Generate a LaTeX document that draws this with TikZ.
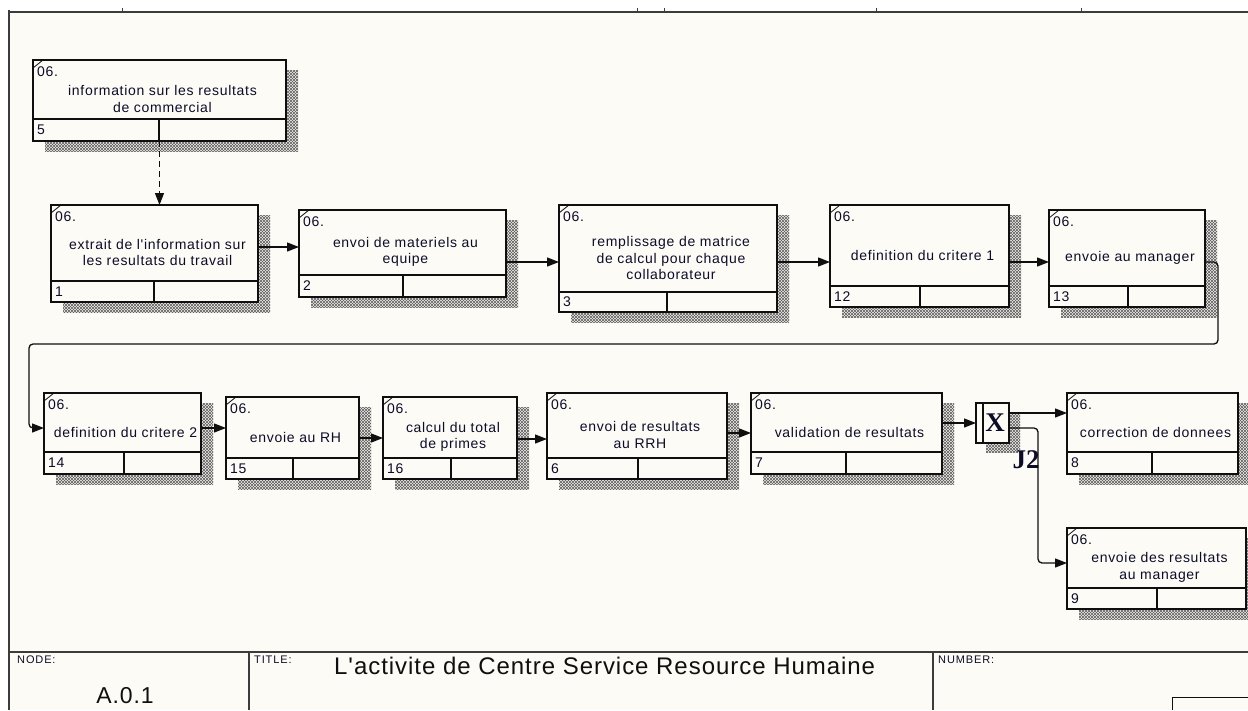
\documentclass[tikz,border=0pt]{standalone}
\usepackage{fontspec}
\setmainfont{Liberation Sans}
\newfontfamily\boxfont[LetterSpace=5,Ligatures=TeXOff]{Liberation Sans}
\newfontfamily\lblfont[LetterSpace=8,Ligatures=TeXOff]{Liberation Sans}
\newfontfamily\ttlfont[LetterSpace=4,Ligatures=TeXOff]{Liberation Sans}
\newfontfamily\jfont{Liberation Serif}
\usetikzlibrary{arrows.meta,patterns,calc}

\definecolor{paper}{RGB}{253,251,246}
\definecolor{ink}{RGB}{15,15,15}
\definecolor{txt}{RGB}{12,12,40}
\definecolor{frame}{RGB}{60,60,60}
\definecolor{hatch}{RGB}{95,95,95}

% fine diagonal cross-hatch used for the drop shadows
\pgfdeclarepatternformonly{idefshade}{\pgfqpoint{-0.5pt}{-0.5pt}}{\pgfqpoint{3.5pt}{3.5pt}}{\pgfqpoint{3pt}{3pt}}{%
  \pgfsetlinewidth{0.5pt}%
  \pgfpathmoveto{\pgfqpoint{0pt}{0pt}}\pgfpathlineto{\pgfqpoint{3pt}{3pt}}%
  \pgfpathmoveto{\pgfqpoint{0pt}{3pt}}\pgfpathlineto{\pgfqpoint{3pt}{0pt}}%
  \pgfusepath{stroke}}

\tikzset{
  abox/.style={draw=ink, line width=1.3pt, fill=paper, inner sep=0pt, outer sep=0pt},
  rule/.style={draw=ink, line width=1.3pt},
  framerule/.style={draw=frame, line width=1.8pt},
  shade/.style={pattern=idefshade, pattern color=hatch},
  btext/.style={font=\boxfont\fontsize{14}{16.5}\selectfont, text=txt, align=center, inner sep=0pt},
  blabel/.style={font=\boxfont\fontsize{14}{16}\selectfont, text=txt, anchor=west, inner sep=0pt},
  flow/.style={draw=ink, line width=1.3pt, -{Triangle[length=12pt,width=9pt]}},
  small/.style={font=\lblfont\fontsize{11}{13}\selectfont, text=txt, anchor=west, inner sep=0pt},
  jlabel/.style={font=\jfont\bfseries\fontsize{27}{30}\selectfont, text=txt, inner sep=0pt},
}

% \idefbox{name}{left}{top}{right}{bottom}{divider y}{cell x}{number}{text}
\newcommand\idefbox[9]{%
  \pgfmathsetmacro\bw{#4-#2}%
  \pgfmathsetmacro\bh{#5-#3}%
  \pgfmathsetmacro\tx{(#2+#4)/2+3}%
  \pgfmathsetmacro\ty{(#3+14+#6)/2+2.5}%
  \pgfmathsetmacro\ny{(#6+#5)/2}%
  \fill[shade] (#2+12,#3+10) rectangle (#4+12,#5+10);
  \node[abox, minimum width=\bw pt, minimum height=\bh pt, anchor=north west] (#1) at (#2,#3) {};
  \draw[rule] (#2,#6) -- (#4,#6) (#7,#6) -- (#7,#5);
  \draw[rule, line width=0.8pt] (#2,#3+8) -- (#2+10,#3);
  \node[blabel] (#1-ref) at (#2+4,#3+12) {06.};
  \node[blabel] (#1-no) at (#2+4,\ny) {#8};
  \node[btext] (#1-txt) at (\tx,\ty) {#9};
}

\begin{document}
\begin{tikzpicture}[x=1pt, y=-1pt]
\useasboundingbox (0,0) rectangle (1248,710);
\fill[white] (0,0) rectangle (1248,710);
\fill[paper] (9,12) rectangle (1248,710);

% sheet frame
\draw[framerule] (9,12) -- (1248,12);
\draw[framerule, line width=2.6pt] (9,10) -- (9,710);
\foreach \x in {122,637,664,876,1081} \draw[frame, line width=0.8pt] (\x,8) -- (\x,12);

% activity boxes
\idefbox{b5}{33}{60}{286}{141}{119}{159}{5}{information sur les resultats\\de commercial}
\idefbox{b1}{51}{205}{258}{302}{281}{154}{1}{extrait de l'information sur\\les resultats du travail}
\idefbox{b2}{299}{210}{506}{297}{275}{403}{2}{envoi de materiels au\\equipe}
\idefbox{b3}{559}{205}{777}{312}{292}{667}{3}{remplissage de matrice\\de calcul pour chaque\\collaborateur}
\idefbox{b12}{830}{205}{1009}{307}{286}{920}{12}{definition du critere 1}
\idefbox{b13}{1049}{210}{1205}{307}{286}{1128}{13}{envoie au manager}
\idefbox{b14}{44}{393}{201}{474}{452}{124}{14}{definition du critere 2}
\idefbox{b15}{226}{397}{359}{479}{458}{293}{15}{envoie au RH}
\idefbox{b16}{383}{397}{517}{479}{458}{451}{16}{calcul du total\\de primes}
\idefbox{b6}{547}{393}{727}{479}{458}{638}{6}{envoi de resultats\\au RRH}
\idefbox{b7}{751}{393}{942}{474}{452}{846}{7}{validation de resultats}
\idefbox{b8}{1067}{393}{1238}{474}{452}{1152}{8}{correction de donnees}
\idefbox{b9}{1067}{528}{1246}{609}{588}{1157}{9}{envoie des resultats\\au manager}

% XOR junction J2
\fill[shade] (986,413) rectangle (1020,452);
\node[abox, minimum width=33pt, minimum height=40pt, anchor=north west] (j2) at (976,403) {};
\draw[rule] (983,403) -- (983,443);
\node[jlabel] (j2-x) at (995,423) {X};
\node[jlabel] (j2-name) at (1026,460) {J2};

% links
\draw[flow, dash pattern=on 6pt off 4pt] (b5.south) -- (b5.south |- b1.north);
\draw[flow] ([yshift=6.5pt]b1.east) -- ([yshift=6.5pt]b1.east -| b2.west);
\draw[flow] ([yshift=-8.5pt]b2.east) -- ([yshift=-8.5pt]b2.east -| b3.west);
\draw[flow] ([yshift=-3.5pt]b3.east) -- ([yshift=-3.5pt]b3.east -| b12.west);
\draw[flow] ([yshift=-6pt]b12.east) -- ([yshift=-6pt]b12.east -| b13.west);
\draw[flow, rounded corners=4pt] ([yshift=-3.5pt]b13.east) -- ++(13,0) -- ++(0,82)
   -| ([xshift=-15pt,yshift=5.5pt]b14.west) -- ([yshift=5.5pt]b14.west);
\draw[flow] ([yshift=5.5pt]b14.east) -- ([yshift=5.5pt]b14.east -| b15.west);
\draw[flow] (b15.east) -- (b15.east -| b16.west);
\draw[flow] ([yshift=-1pt]b16.east) -- ([yshift=-1pt]b16.east -| b6.west);
\draw[flow] ([yshift=3pt]b6.east) -- ([yshift=3pt]b6.east -| b7.west);
\draw[flow] ([yshift=10.5pt]b7.east) -- ([yshift=10.5pt]b7.east -| j2.west);
\draw[flow] ([yshift=10pt]j2.east) -- ([yshift=10pt]j2.east -| b8.west);
\draw[flow, rounded corners=4pt] ([yshift=-5pt]j2.east) -- ++(29,0) |- ([yshift=5.5pt]b9.west);

% title block
\draw[framerule] (9,652) -- (1248,652) (249,652) -- (249,710) (933,652) -- (933,710);
\draw[rule, line width=1pt] (1248,697) -- (1172,697) -- (1172,710);
\node[small] (node-lbl) at (17,660) {NODE:};
\node[font=\ttlfont\fontsize{23}{26}\selectfont, text=ink, inner sep=0pt] (node-id) at (125,696) {A.0.1};
\node[small] (title-lbl) at (254,660) {TITLE:};
\node[font=\ttlfont\fontsize{24}{28}\selectfont, text=ink, anchor=base west, inner sep=0pt] (title) at (334,674) {L'activite de Centre Service Resource Humaine};
\node[small] (number-lbl) at (938,660) {NUMBER:};
\end{tikzpicture}
\end{document}
